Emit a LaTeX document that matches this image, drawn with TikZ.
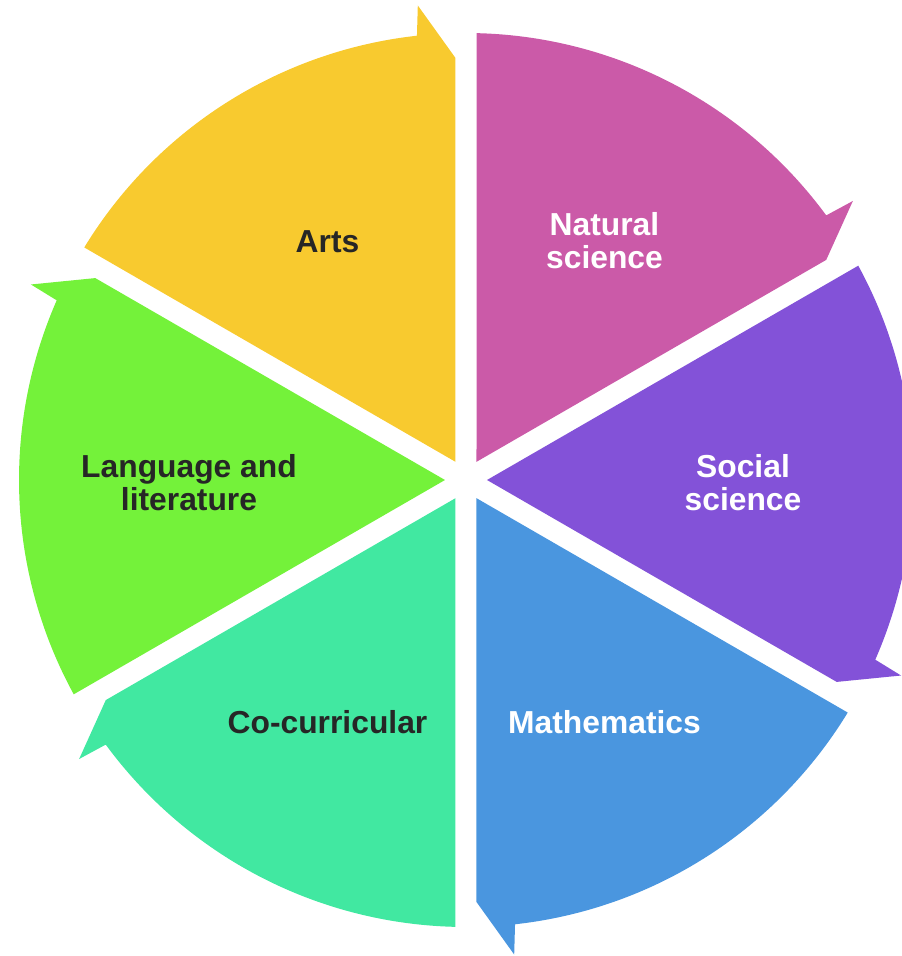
\documentclass[tikz,border=0pt]{standalone}
\usepackage{fontspec}
\setmainfont{Liberation Sans}
\usetikzlibrary{calc}
\definecolor{natsci}{HTML}{CB5AA8}
\definecolor{arts}{HTML}{F8CA2F}
\definecolor{lang}{HTML}{74F23A}
\definecolor{cocur}{HTML}{41E8A1}
\definecolor{maths}{HTML}{4A96DF}
\definecolor{socsci}{HTML}{8352D8}
\definecolor{darktext}{HTML}{262626}
\tikzset{
  label/.style={font=\fontsize{31.8}{33}\selectfont\bfseries, align=center, inner sep=0pt},
  darklabel/.style={label, text=darktext},
  lightlabel/.style={label, text=white}
}
\begin{document}
\begin{tikzpicture}[x=1pt,y=1pt]
\useasboundingbox (-466,-476) rectangle (436,480);
% six 60-degree wedges with a half arrowhead on the clockwise end
\foreach \a/\col in {30/natsci, 90/arts, 150/lang, 210/cocur, 270/maths, 330/socsci}{
  \fill[\col] ($(\a+30:21)$) -- ($(\a:422)+(\a+90:10.5)$) -- (\a+5.8:477) -- (\a+6.3:447)
    arc[start angle=\a+6.3, end angle=\a+58.65, radius=447] -- cycle;
}
\node[lightlabel] (natural) at ($(60:277)+(0,-1)$) {Natural\\science};
\node[darklabel] (arts) at ($(120:277)+(0,-2)$) {Arts};
\node[darklabel] (language) at ($(180:277)+(0,-2.5)$) {Language and\\literature};
\node[darklabel] (cocurricular) at ($(240:277)+(0,-2.5)$) {Co-curricular};
\node[lightlabel] (mathematics) at ($(300:277)+(0,-2.5)$) {Mathematics};
\node[lightlabel] (social) at ($(0:277)+(0,-2.5)$) {Social\\science};
\end{tikzpicture}
\end{document}
